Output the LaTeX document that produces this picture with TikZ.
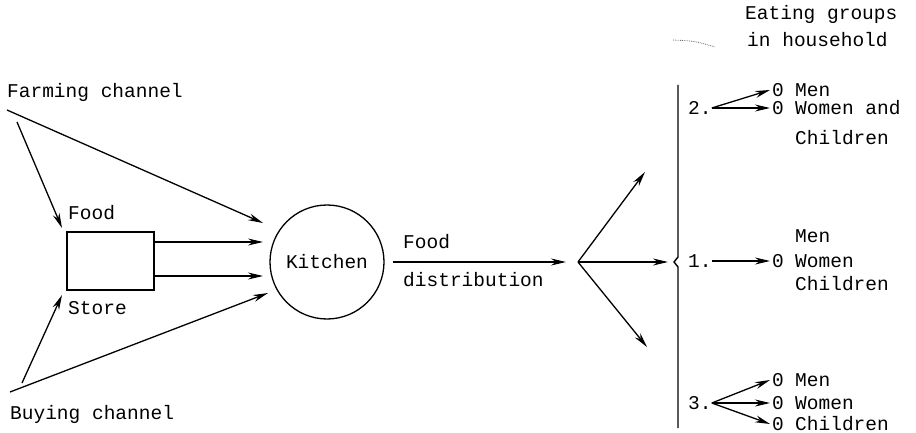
\documentclass[tikz,border=0pt]{standalone}
\usepackage{fontspec}
\setmonofont{Liberation Mono}
\usetikzlibrary{arrows.meta}
\tikzset{
  lbl/.style={font=\ttfamily\fontsize{19.5}{23}\selectfont, inner sep=0pt, anchor=west},
  flow/.style={line width=1.3pt, -{Stealth[length=15pt,width=7pt]}},
}
\begin{document}
\begin{tikzpicture}[x=1pt,y=-1pt]
\useasboundingbox (0,0) rectangle (916,433);
% channels
\node[lbl] (farm) at (7,92) {Farming channel};
\node[lbl] (buy) at (10,414) {Buying channel};
\coordinate (fa) at (7,110);
\coordinate (fb) at (17,122);
\coordinate (ba) at (10,392);
\coordinate (bb) at (22,383);
% store
\node[draw, line width=1.6pt, minimum width=87pt, minimum height=58pt, inner sep=0pt] (store) at (110.5,261) {};
\node[lbl] (foodlbl) at (68,213) {Food};
\node[lbl] (storelbl) at (68,308) {Store};
\coordinate (s1) at (62,228);
\coordinate (s2) at (62,295);
% kitchen
\node[draw, circle, line width=1.3pt, minimum size=114pt, inner sep=0pt, lbl, anchor=center] (kitchen) at (327,262) {Kitchen};
\coordinate (k1) at (263,223);
\coordinate (k2) at (263,242);
\coordinate (k3) at (263,276);
\coordinate (k4) at (268,293);
\draw[flow] (fa) -- (k1);
\draw[flow] (fb) -- (s1);
\draw[flow] (store.east |- k2) -- (k2);
\draw[flow] (store.east |- k3) -- (k3);
\draw[flow] (bb) -- (s2);
\draw[flow] (ba) -- (k4);
% distribution
\coordinate (d0) at (393,262);
\coordinate (d1) at (566,262);
\draw[flow] (d0) -- (d1);
\node[lbl] (distfood) at (403,242) {Food};
\node[lbl] (dist) at (403,280) {distribution};
\coordinate (f0) at (578,262);
\coordinate (fu) at (645,172);
\coordinate (fm) at (668,262);
\coordinate (fl) at (647,347);
\draw[flow] (f0) -- (fu);
\draw[flow] (f0) -- (fm);
\draw[flow] (f0) -- (fl);
% eating groups
\node[lbl] (eat) at (745,14) {Eating groups};
\node[lbl] (house) at (747,40) {in household};
\draw[densely dotted, black!60, line width=0.8pt] (673,40) .. controls (695,41) .. (715,47);
\draw[line width=1.4pt] (678,85) -- (678,257) -- (674,262) -- (678,267) -- (678,428);
% group 2
\node[lbl] (g2) at (688,108) {2.};
\node[lbl] (g2a) at (772,90) {0};
\node[lbl] (g2b) at (772,108) {0};
\node[lbl] (g2at) at (795,90) {Men};
\node[lbl] (g2bt) at (795,108) {Women and};
\node[lbl] (g2ct) at (795,138) {Children};
\draw[flow] (g2.east) -- ([xshift=-2pt]g2a.west);
\draw[flow] (g2.east) -- ([xshift=-2pt]g2b.west);
% group 1
\node[lbl] (g1) at (688,261) {1.};
\node[lbl] (g1a) at (772,261) {0};
\node[lbl] (g1at) at (795,236) {Men};
\node[lbl] (g1bt) at (795,261) {Women};
\node[lbl] (g1ct) at (795,284) {Children};
\draw[flow] (g1.east) -- ([xshift=-2pt]g1a.west);
% group 3
\node[lbl] (g3) at (688,403) {3.};
\node[lbl] (g3a) at (772,380) {0};
\node[lbl] (g3b) at (772,403) {0};
\node[lbl] (g3c) at (772,424) {0};
\node[lbl] (g3at) at (795,380) {Men};
\node[lbl] (g3bt) at (795,403) {Women};
\node[lbl] (g3ct) at (795,424) {Children};
\draw[flow] (g3.east) -- ([xshift=-2pt]g3a.west);
\draw[flow] (g3.east) -- ([xshift=-2pt]g3b.west);
\draw[flow] (g3.east) -- ([xshift=-2pt]g3c.west);
\end{tikzpicture}
\end{document}
